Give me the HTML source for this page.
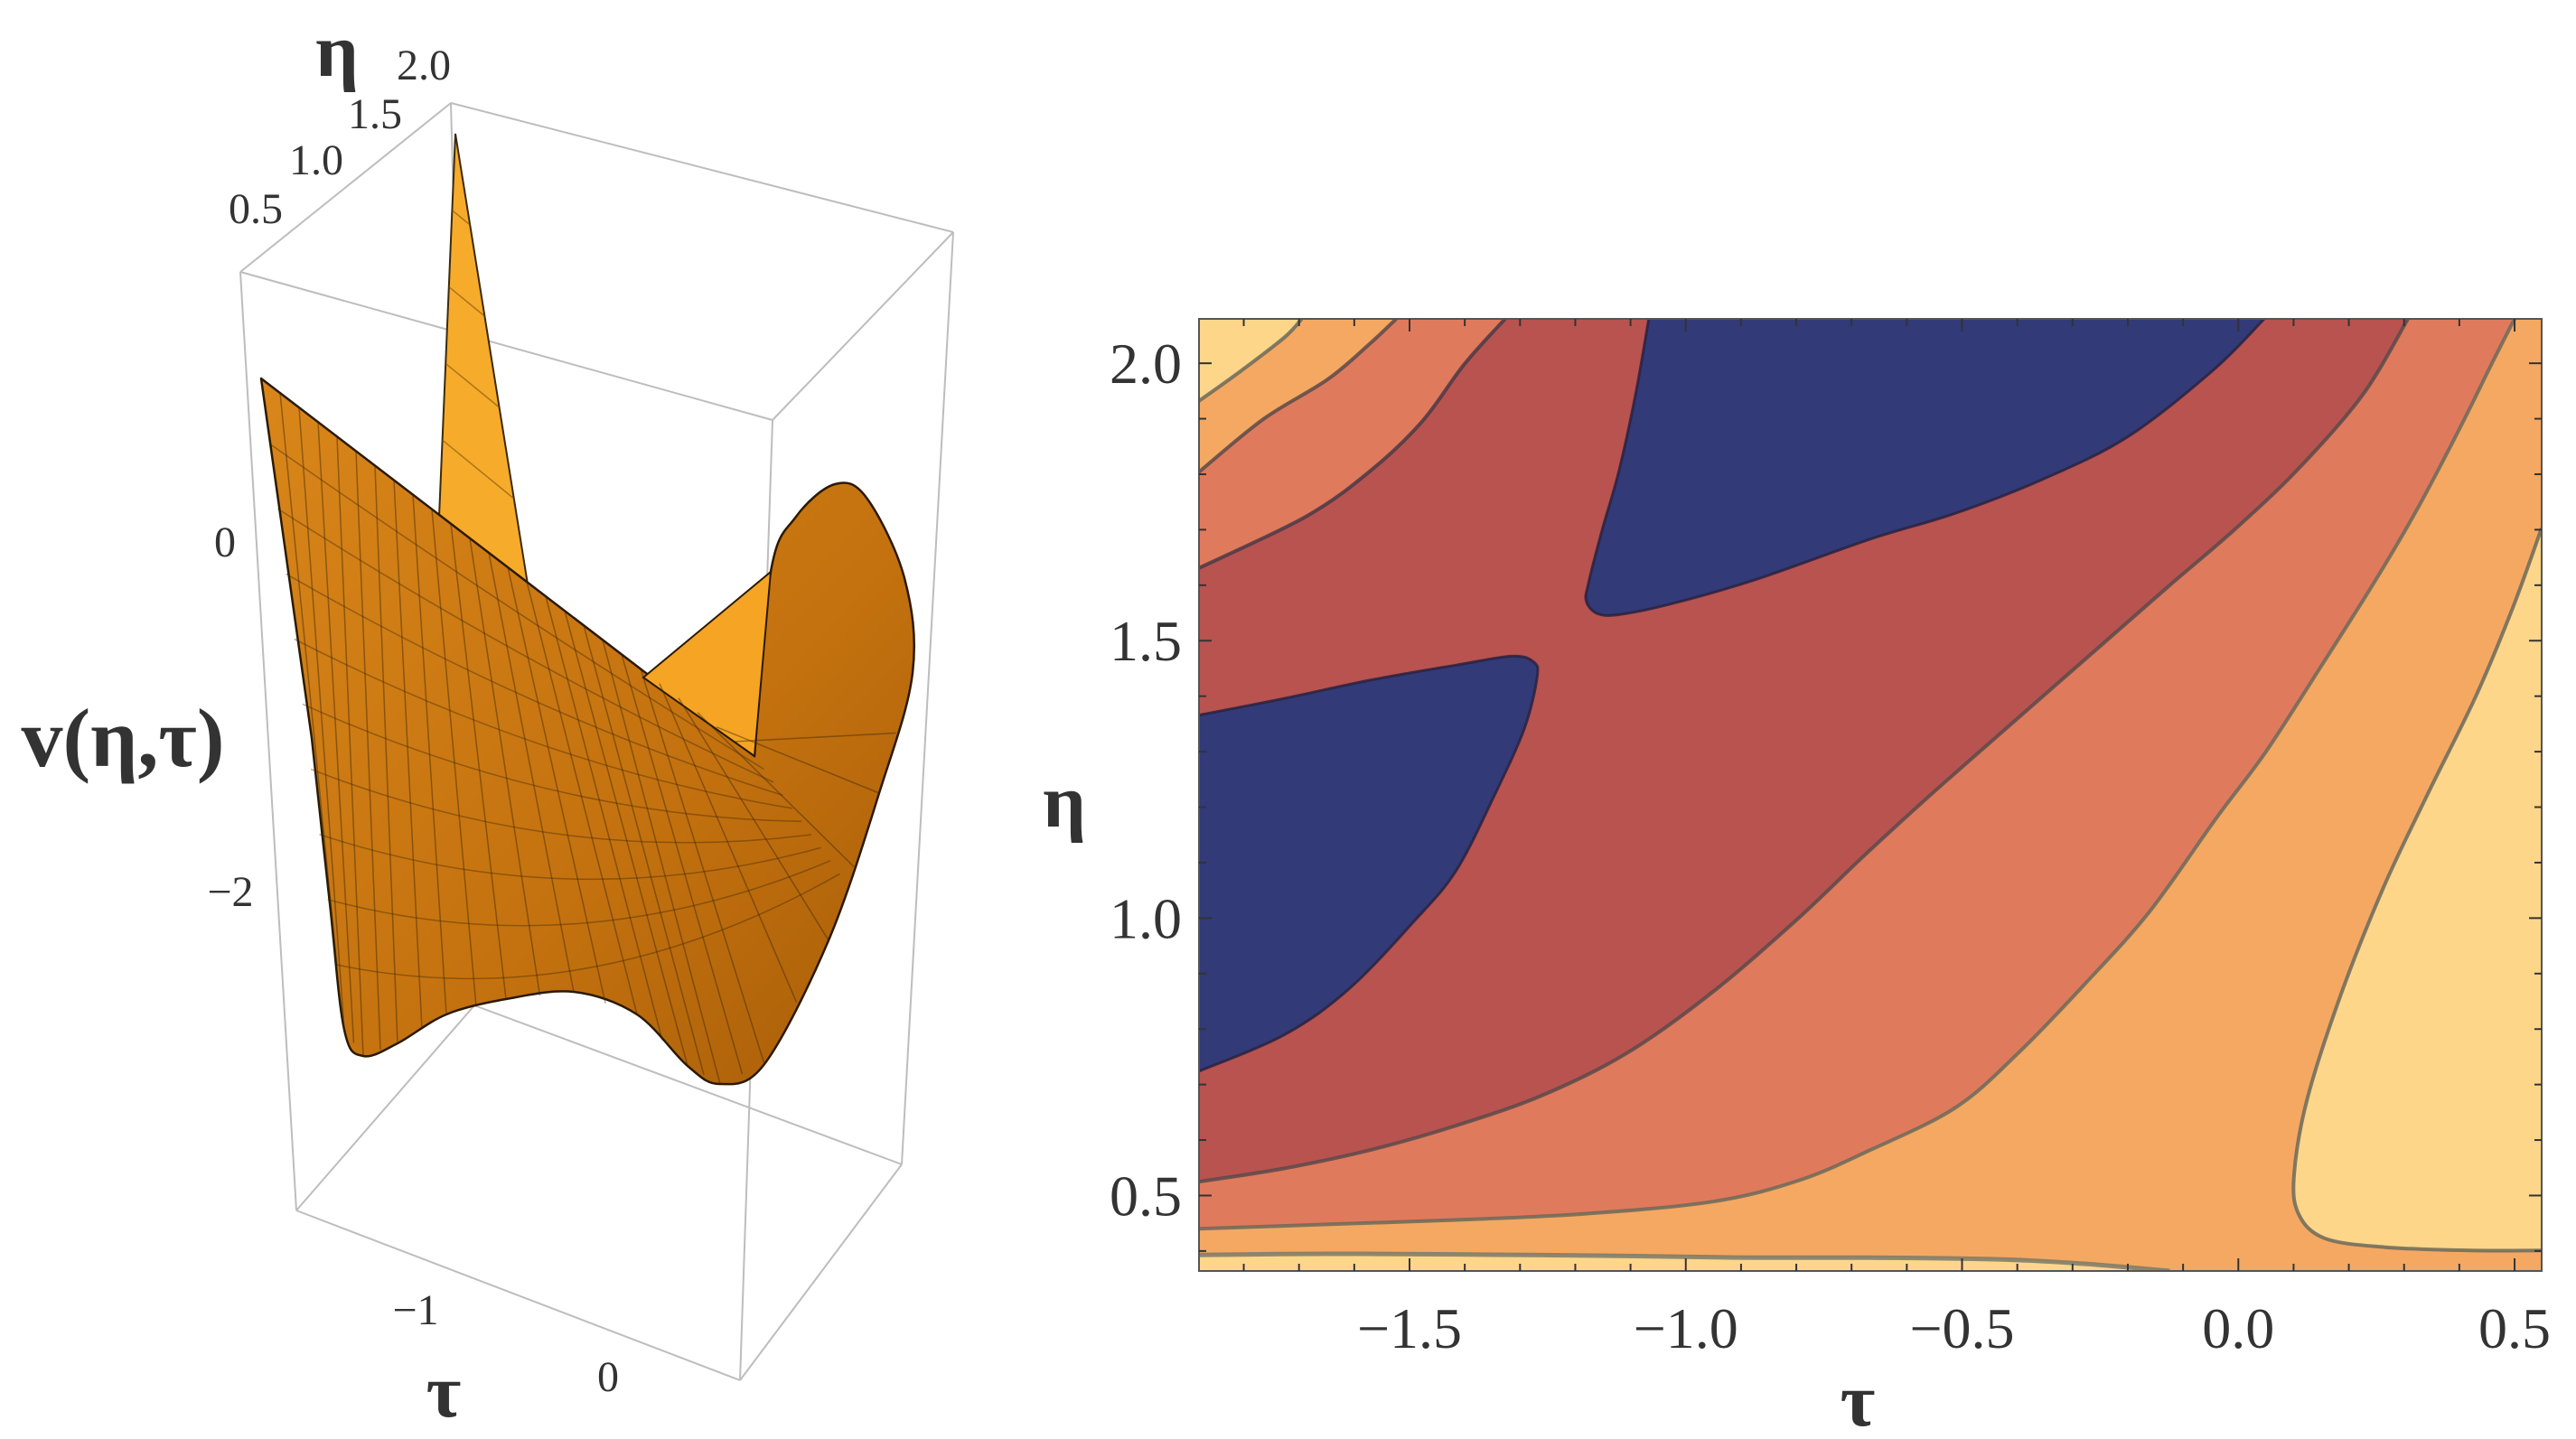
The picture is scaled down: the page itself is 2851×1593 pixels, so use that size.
<!DOCTYPE html>
<html><head><meta charset="utf-8"><style>
html,body{margin:0;padding:0;background:#fff;}
svg{display:block;}
text{font-family:"Liberation Serif","DejaVu Serif",serif;fill:#333;}
</style></head><body>
<svg id="fig" width="2851" height="1593" viewBox="0 0 2851 1593" xmlns="http://www.w3.org/2000/svg">
<defs>
<clipPath id="plotClip"><rect x="1327" y="353" width="1486" height="1054"/></clipPath>
<linearGradient id="surfGrad" x1="0" y1="0" x2="1" y2="1">
<stop offset="0" stop-color="#d9861a"/><stop offset="0.6" stop-color="#c4720f"/><stop offset="1" stop-color="#a85d08"/>
</linearGradient>
</defs>
<g id="surface3d"></g>
<g id="contour"></g>
</svg>
<script>
// ---------- Contour plot data (tau, eta) ----------
const tauTicks = [-1.5, -1.0, -0.5, 0.0, 0.5];
const tauTickLabels = ["\u22121.5", "\u22121.0", "\u22120.5", "0.0", "0.5"];
const etaTicks = [0.5, 1.0, 1.5, 2.0];
const etaTickLabels = ["0.5", "1.0", "1.5", "2.0"];
const tauRange = [-1.881, 0.549];
const etaRange = [0.364, 2.08];

const cornerYellowCurve = [[-1.695,2.08],[-1.726,2.047],[-1.804,1.987],[-1.881,1.932]];
const orangeRedUpper = [[-1.524,2.08],[-1.571,2.036],[-1.648,1.971],[-1.765,1.899],[-1.881,1.804]];
const orangeRedLower = [[0.500,2.08],[0.458,1.998],[0.404,1.889],[0.326,1.741],[0.249,1.610],[0.148,1.451],[0.050,1.300],[-0.040,1.180],[-0.162,1.010],[-0.279,0.880],[-0.395,0.760],[-0.511,0.659],[-0.666,0.582],[-0.796,0.527],[-0.951,0.489],[-1.184,0.467],[-1.416,0.456],[-1.649,0.448],[-1.881,0.440]];
const redUpper = [[-1.327,2.08],[-1.401,1.998],[-1.478,1.894],[-1.571,1.806],[-1.687,1.724],[-1.881,1.631]];
const redLower = [[0.307,2.08],[0.225,1.943],[0.109,1.810],[-0.007,1.700],[-0.124,1.600],[-0.279,1.465],[-0.434,1.330],[-0.565,1.215],[-0.680,1.110],[-0.796,1.000],[-0.951,0.867],[-1.106,0.757],[-1.261,0.680],[-1.416,0.626],[-1.571,0.582],[-1.726,0.549],[-1.881,0.525]];
const navyTop = [[-1.067,2.08],[-1.091,1.943],[-1.121,1.806],[-1.152,1.697],[-1.176,1.604],[-1.180,1.571],[-1.160,1.549],[-1.121,1.547],[-1.028,1.566],[-0.874,1.610],[-0.666,1.683],[-0.511,1.730],[-0.356,1.790],[-0.201,1.867],[-0.046,1.987],[0.047,2.08]];
const navyLeft = [[-1.881,1.366],[-1.726,1.396],[-1.571,1.429],[-1.416,1.456],[-1.315,1.472],[-1.276,1.462],[-1.269,1.435],[-1.292,1.342],[-1.346,1.222],[-1.416,1.085],[-1.494,0.992],[-1.610,0.872],[-1.726,0.790],[-1.881,0.724]];
const yellowRight = [[0.549,1.703],[0.497,1.560],[0.430,1.400],[0.342,1.222],[0.264,1.058],[0.187,0.866],[0.125,0.675],[0.101,0.538],[0.109,0.467],[0.156,0.423],[0.264,0.407],[0.419,0.401],[0.549,0.401]];
const bottomStrip = [[-1.881,0.393],[-1.649,0.395],[-1.416,0.394],[-1.106,0.391],[-0.874,0.388],[-0.666,0.388],[-0.434,0.385],[-0.279,0.377],[-0.124,0.364]];

const X0=1327, X1=2813, Y0=353, Y1=1407;
function sx(t){ return X0 + (t - tauRange[0])/(tauRange[1]-tauRange[0])*(X1-X0); }
function sy(e){ return Y1 - (e - etaRange[0])/(etaRange[1]-etaRange[0])*(Y1-Y0); }
const NS="http://www.w3.org/2000/svg";
function mk(tag, attrs, parent){ const el=document.createElementNS(NS,tag); for(const k in attrs) el.setAttribute(k, attrs[k]); parent.appendChild(el); return el; }
function smooth(pts){
  let d="M"+pts[0][0].toFixed(1)+","+pts[0][1].toFixed(1);
  for(let i=0;i<pts.length-1;i++){
    const p0=pts[Math.max(0,i-1)], p1=pts[i], p2=pts[i+1], p3=pts[Math.min(pts.length-1,i+2)];
    const c1=[p1[0]+(p2[0]-p0[0])/6, p1[1]+(p2[1]-p0[1])/6];
    const c2=[p2[0]-(p3[0]-p1[0])/6, p2[1]-(p3[1]-p1[1])/6];
    d+=" C"+c1[0].toFixed(1)+","+c1[1].toFixed(1)+" "+c2[0].toFixed(1)+","+c2[1].toFixed(1)+" "+p2[0].toFixed(1)+","+p2[1].toFixed(1);
  }
  return d;
}
function scr(arr){ return arr.map(p=>[sx(p[0]), sy(p[1])]); }

const C = document.getElementById('contour');
const body = mk('g', {'clip-path':'url(#plotClip)'}, C);


const bg = mk('rect', {x:X0,y:Y0,width:X1-X0,height:Y1-Y0,fill:'#f5a862'}, body);



function region(name, curveA, curveBrev, fill, closeExtra){
  let pts = scr(curveA);
  let d = smooth(pts);
  if(curveBrev){ const b=scr(curveBrev.slice().reverse()); d += " L"+smooth(b).slice(1); }
  if(closeExtra){ closeExtra.forEach(p=>{ d+=" L"+sx(p[0]).toFixed(1)+","+sy(p[1]).toFixed(1); }); }
  d += " Z";
  const el = mk('path', {d:d, fill:fill}, body);
  
  
}
function line(name, curve, col, w){
  const el = mk('path', {d:smooth(scr(curve)), fill:'none', stroke:col, 'stroke-width':w, 'stroke-linejoin':'round', 'stroke-opacity':0.85}, body);
  
  
}
region('region-corner-yellow', cornerYellowCurve, null, '#fdd68a', [[tauRange[0],etaRange[1]]]);
region('region-orange-red', orangeRedUpper, orangeRedLower, '#e07a5c');
region('region-red', redUpper, redLower, '#b85350');
region('region-navy-top', navyTop, null, '#323a78');
region('region-navy-left', navyLeft, null, '#323a78');
region('region-yellow-right', yellowRight, null, '#fdd68a');
region('region-bottom-strip', bottomStrip, null, '#fdd68a', [[tauRange[0],etaRange[0]]]);

line('contour-line-corner', cornerYellowCurve, '#6b6a5a', 4);
line('contour-line-orange-upper', orangeRedUpper, '#5a4a4a', 4);
line('contour-line-orange-lower', orangeRedLower, '#6b6a5a', 4);
line('contour-line-red-upper', redUpper, '#4a3a45', 4);
line('contour-line-red-lower', redLower, '#5a4a4a', 4);
line('contour-line-navy-top', navyTop, '#2a2240', 3);
line('contour-line-navy-left', navyLeft, '#2a2240', 3);
line('contour-line-yellow-right', yellowRight, '#6b6a5a', 4);
line('contour-line-bottom', bottomStrip, '#7a7a6a', 5);

const frame = mk('rect', {x:X0,y:Y0,width:X1-X0,height:Y1-Y0,fill:'none',stroke:'#555','stroke-width':2}, C);



for(let k=-19;k<=5;k++){
  const t=k/10; if(t<tauRange[0]||t>tauRange[1]) continue;
  const major = (k%5===0); const L = major?14:8; const x=sx(t);
  const a=mk('line',{x1:x,y1:Y1,x2:x,y2:Y1-L,stroke:'#333','stroke-width':2},C);
   
  const b=mk('line',{x1:x,y1:Y0,x2:x,y2:Y0+L,stroke:'#333','stroke-width':2},C);
   
}
for(let k=4;k<=20;k++){
  const e=k/10; if(e<etaRange[0]||e>etaRange[1]) continue;
  const major=(k%5===0); const L=major?14:8; const y=sy(e);
  const a=mk('line',{x1:X0,y1:y,x2:X0+L,y2:y,stroke:'#333','stroke-width':2},C);
   
  const b=mk('line',{x1:X1,y1:y,x2:X1-L,y2:y,stroke:'#333','stroke-width':2},C);
   
}
tauTicks.forEach((t,i)=>{
  const el=mk('text',{x:sx(t),y:1492,'font-size':64,'text-anchor':'middle'},C);
  el.textContent=tauTickLabels[i];
   
});
etaTicks.forEach((e,i)=>{
  const el=mk('text',{x:1308,y:sy(e)+22,'font-size':64,'text-anchor':'end'},C);
  el.textContent=etaTickLabels[i];
   
});
const xt=mk('text',{x:2056,y:1578,'font-size':84,'font-weight':'bold','text-anchor':'middle'},C);
xt.textContent='τ';  
const yt=mk('text',{x:1178,y:915,'font-size':84,'font-weight':'bold','text-anchor':'middle'},C);
yt.textContent='η';  

// ---------- 3D surface (screen-space rendering) ----------
const S = document.getElementById('surface3d');
const boxA=[266,301], boxB=[499,114], boxC=[1055,257], boxD=[855,465], boxE=[328,1340], boxF=[819,1528], boxG=[998,1289], boxH=[525,1113];
function seg(p,q,name){ const el=mk('line',{x1:p[0],y1:p[1],x2:q[0],y2:q[1],stroke:'#bdbdbd','stroke-width':2},S);   }
seg(boxE,boxH,'box-edge'); seg(boxH,boxG,'box-edge'); seg(boxH,boxB,'box-edge');
seg(boxA,boxB,'box-edge'); seg(boxB,boxC,'box-edge'); seg(boxC,boxD,'box-edge'); seg(boxD,boxA,'box-edge');
seg(boxA,boxE,'box-edge'); seg(boxD,boxF,'box-edge'); seg(boxC,boxG,'box-edge'); seg(boxE,boxF,'box-edge'); seg(boxF,boxG,'box-edge');

const spike = mk('polygon',{points:'486,572 504,148 585,653 560,700',fill:'#f7ab2a',stroke:'#3a2a10','stroke-width':2},S);
 
for(let i=1;i<5;i++){ const f=i/5; const el=mk('line',{x1:504+(486-504)*f,y1:148+(572-148)*f,x2:504+(585-504)*f,y2:148+(653-148)*f,stroke:'#7a5010','stroke-width':1.5,'stroke-opacity':0.6},S);   }

const leftEdge=[[289,419],[345,817]];
const bottomCurve=[[345,817],[365,1000],[381,1140],[402,1169],[440,1155],[494,1123],[560,1106],[635,1098],[705,1123],[761,1180],[797,1200],[846,1178],[917,1041],[973,878],[1010,745],[1001,640],[959,551],[924,536],[881,572],[853,633],[835,837]];
let sd="M289,419 L"+smooth(bottomCurve).slice(1)+" Z";
const surf=mk('path',{d:sd,fill:'url(#surfGrad)',stroke:'#2a1a05','stroke-width':2.5,'stroke-linejoin':'round'},S);
 
const lit=mk('polygon',{points:'712,750 853,633 835,837',fill:'#f6a424',stroke:'#2a1a05','stroke-width':2},S);
 
const topE=[[289,419],[835,837]];
const lower=bottomCurve.slice(1,15);
for(let i=1;i<26;i++){
  const f=i/26;
  const tp=[topE[0][0]+(topE[1][0]-topE[0][0])*f, topE[0][1]+(topE[1][1]-topE[0][1])*f];
  const idx=f*(lower.length-1); const j=Math.floor(idx), r=idx-j;
  const q0=lower[j], q1=lower[Math.min(j+1,lower.length-1)];
  const bp=[q0[0]+(q1[0]-q0[0])*r, q0[1]+(q1[1]-q0[1])*r];
  const el=mk('line',{x1:tp[0],y1:tp[1],x2:bp[0],y2:bp[1],stroke:'#3a2505','stroke-width':1.5,'stroke-opacity':0.45},S);
   
}
for(let i=1;i<10;i++){
  const f=i/10;
  const l=[289+(381-289)*f, 419+(1140-419)*f];
  const r=[835+(1010-835)*f*0.6, 837-(837-745)*f*0.6+f*200];
  const el=mk('path',{d:`M${l[0]},${l[1]} Q${(l[0]+r[0])/2},${(l[1]+r[1])/2+120*f} ${r[0]},${r[1]}`,fill:'none',stroke:'#3a2505','stroke-width':1.5,'stroke-opacity':0.4},S);
   
}
function lab(txt,x,y,size,name,bold,anchor){ const el=mk('text',{x:x,y:y,'font-size':size,'text-anchor':anchor||'middle','font-weight':bold?'bold':'normal'},S); el.textContent=txt;   }
lab('η',373,84,84,'eta-axis-title-3d',true);
lab('2.0',469,88,48,'eta-tick-3d-2.0');
lab('1.5',415,142,48,'eta-tick-3d-1.5');
lab('1.0',350,193,48,'eta-tick-3d-1.0');
lab('0.5',283,247,48,'eta-tick-3d-0.5');
lab('0',249,616,48,'v-tick-3d-0');
lab('\u22122',255,1003,48,'v-tick-3d-minus2');
lab('v(η,τ)',136,848,92,'v-axis-title-3d',true);
lab('\u22121',460,1466,48,'tau-tick-3d-minus1');
lab('0',673,1540,48,'tau-tick-3d-0');
lab('τ',491,1568,84,'tau-axis-title-3d',true);
</script>
</body></html>
